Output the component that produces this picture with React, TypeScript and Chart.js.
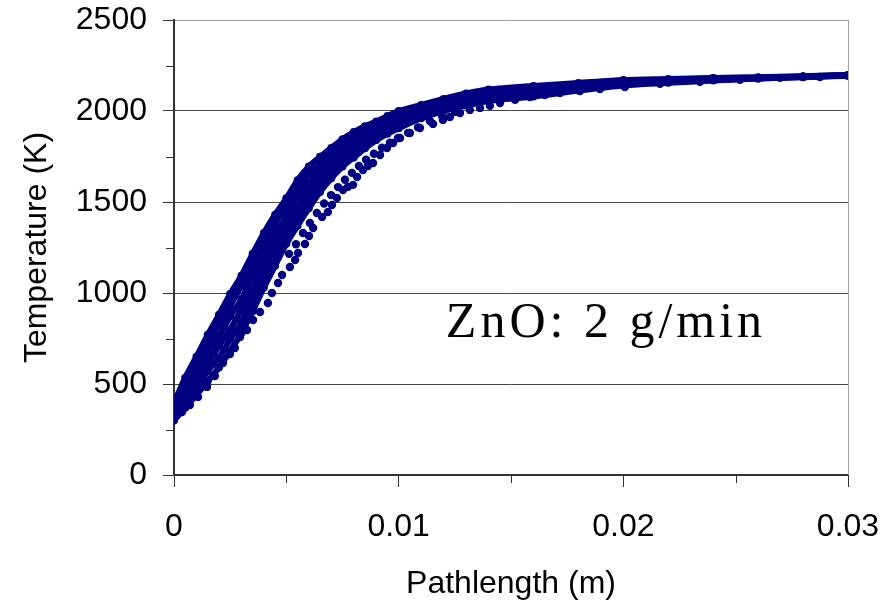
import React, { useEffect, useRef } from 'react';
import { Chart, registerables } from 'chart.js';

Chart.register(...registerables);

// ---------- data ----------
const bandX = [0, 0.0005, 0.001, 0.0015, 0.002, 0.0025, 0.003, 0.0035, 0.004, 0.0045, 0.005, 0.0055, 0.006, 0.0065, 0.007, 0.0075, 0.008, 0.0085, 0.009, 0.0095, 0.01, 0.011, 0.012, 0.013, 0.014, 0.016, 0.018, 0.02, 0.022, 0.024, 0.026, 0.028, 0.03];

const tempA = [395, 535, 650, 770, 880, 995, 1095, 1215, 1330, 1430, 1520, 1620, 1695, 1748, 1797, 1845, 1884, 1916, 1942, 1972, 2000, 2033, 2066, 2096, 2118, 2138, 2154, 2170, 2176, 2182, 2186, 2191, 2198];
const tempB = [376, 500, 612, 715, 825, 930, 1040, 1150, 1265, 1380, 1470, 1565, 1652, 1705, 1768, 1812, 1858, 1890, 1925, 1950, 1984, 2015, 2050, 2085, 2102, 2128, 2143, 2166, 2171, 2180, 2183, 2190, 2197];
const tempC = [357, 472, 560, 672, 760, 872, 965, 1095, 1205, 1322, 1415, 1525, 1600, 1675, 1725, 1790, 1825, 1870, 1898, 1936, 1960, 2006, 2038, 2068, 2095, 2112, 2139, 2156, 2169, 2175, 2182, 2188, 2196];
const tempD = [338, 432, 528, 612, 710, 800, 910, 1020, 1155, 1258, 1375, 1465, 1560, 1630, 1700, 1752, 1805, 1840, 1884, 1910, 1945, 1986, 2029, 2054, 2082, 2106, 2126, 2153, 2163, 2172, 2180, 2188, 2196];
const tempE = [319, 405, 480, 570, 645, 745, 840, 965, 1088, 1210, 1318, 1425, 1508, 1598, 1660, 1728, 1770, 1822, 1858, 1896, 1922, 1977, 2011, 2045, 2066, 2094, 2121, 2145, 2160, 2170, 2179, 2187, 2195];
const tempF = [300, 370, 440, 515, 590, 680, 780, 900, 1030, 1150, 1270, 1370, 1465, 1555, 1630, 1695, 1745, 1795, 1840, 1875, 1905, 1960, 2000, 2030, 2055, 2080, 2112, 2140, 2155, 2167, 2178, 2186, 2194];

const r1X = [0, 0.00036, 0.00071, 0.00107, 0.00147, 0.00182, 0.00218, 0.00249, 0.00271, 0.00294, 0.00325, 0.00352, 0.00383, 0.00418, 0.00436, 0.00463, 0.00481, 0.00516, 0.00539, 0.00552, 0.00583, 0.00601, 0.00619, 0.00659, 0.00685, 0.00703, 0.00725, 0.00752, 0.00774, 0.00797, 0.00815, 0.00841, 0.00863, 0.00886, 0.00917, 0.00948, 0.00975, 0.01006, 0.0105, 0.01095, 0.01153, 0.01197, 0.01228, 0.01273, 0.01317, 0.01362, 0.01406, 0.01451, 0.01518, 0.01584, 0.01651, 0.01718, 0.01807, 0.01896, 0.02007, 0.02163, 0.02341, 0.02519, 0.02697, 0.02875, 0.03];
const r1T = [313, 346, 385, 429, 484, 544, 615, 665, 698, 758, 797, 852, 896, 945, 1000, 1055, 1099, 1143, 1181, 1220, 1269, 1313, 1357, 1418, 1445, 1484, 1522, 1566, 1583, 1594, 1637, 1676, 1698, 1714, 1758, 1797, 1824, 1852, 1879, 1907, 1929, 1951, 1967, 1989, 2006, 2017, 2028, 2044, 2061, 2077, 2088, 2099, 2110, 2121, 2132, 2149, 2160, 2171, 2182, 2187, 2193];

const r2X = [0.00512, 0.00543, 0.00574, 0.00605, 0.00636, 0.00668, 0.00699, 0.0073, 0.00761, 0.00792, 0.00823, 0.00855, 0.0089, 0.00926, 0.00961, 0.00997, 0.01042, 0.01086, 0.01139, 0.01193, 0.01251];
const r2T = [1215, 1268, 1330, 1385, 1440, 1492, 1538, 1582, 1622, 1660, 1698, 1732, 1765, 1798, 1826, 1852, 1880, 1910, 1945, 1972, 1995];

const xTickValues = [0, 0.01, 0.02, 0.03];
const xTickLabels = ['0', '0.01', '0.02', '0.03'];
const xMinorTicks = [0.005, 0.015, 0.025];
const yTickValues = [0, 500, 1000, 1500, 2000, 2500];
const yTickLabels = ['0', '500', '1000', '1500', '2000', '2500'];
const yMinorTicks = [250, 750, 1250, 1750, 2250];

const xTitle = 'Pathlength (m)';
const yTitle = 'Temperature (K)';
const annotationText = 'ZnO: 2 g/min';
const annotationX = 0.0121;
const annotationY = 758;

// ---------- styles ----------
const NAVY = '#000080';
const AXIS = '#333333';
const FONT = '"Liberation Sans", Arial, sans-serif';

export default function App() {
  const ref = useRef<HTMLCanvasElement>(null);

  useEffect(() => {
    const canvas = ref.current;
    if (!canvas) return;
    const zip = (xs: number[], ys: number[]) => xs.map((x, i) => ({ x, y: ys[i] }));

    const bandSets = [tempA, tempB, tempC, tempD, tempE, tempF].map((t, i) => ({
      label: 'Trajectory ' + (i + 1),
      data: zip(bandX, t),
      showLine: true,
      borderColor: NAVY,
      borderWidth: 6,
      backgroundColor: NAVY,
      pointRadius: 4,
      pointBorderWidth: 0,
      tension: 0.25,
    }));
    const dotted = (label: string, xs: number[], ys: number[]) => ({
      label,
      data: zip(xs, ys),
      showLine: false,
      backgroundColor: NAVY,
      borderColor: NAVY,
      pointRadius: 4.2,
      pointBorderWidth: 0,
    });

    const extras = {
      id: 'extras',
      beforeDatasetsDraw(chart: any) {
        const { ctx, chartArea } = chart;
        ctx.save();
        ctx.strokeStyle = '#a0a0a0';
        ctx.lineWidth = 1;
        ctx.beginPath();
        ctx.moveTo(Math.round(chartArea.right) + 0.5, chartArea.top);
        ctx.lineTo(Math.round(chartArea.right) + 0.5, chartArea.bottom);
        ctx.stroke();
        ctx.restore();
      },
      afterDraw(chart: any) {
        const { ctx, chartArea, scales } = chart;
        const xs = scales.x;
        const ys = scales.y;
        ctx.save();
        ctx.strokeStyle = AXIS;
        ctx.lineWidth = 1;
        for (const v of yMinorTicks) {
          const py = Math.round(ys.getPixelForValue(v)) + 0.5;
          ctx.beginPath();
          ctx.moveTo(chartArea.left - 8, py);
          ctx.lineTo(chartArea.left, py);
          ctx.stroke();
        }
        for (const v of xMinorTicks) {
          const px = Math.round(xs.getPixelForValue(v)) + 0.5;
          ctx.beginPath();
          ctx.moveTo(px, chartArea.bottom);
          ctx.lineTo(px, chartArea.bottom + 8);
          ctx.stroke();
        }
        ctx.fillStyle = '#000';
        ctx.font = '50px "Liberation Serif", "Times New Roman", serif';
        try { (ctx as any).letterSpacing = '4px'; } catch (e) {}
        ctx.textAlign = 'left';
        ctx.textBaseline = 'alphabetic';
        ctx.fillText(annotationText, xs.getPixelForValue(annotationX), ys.getPixelForValue(annotationY));
        ctx.restore();
      },
    };

    const chart = new Chart(canvas, {
      type: 'scatter',
      data: { datasets: [...bandSets, dotted('Trajectory 7', r1X, r1T), dotted('Trajectory 8', r2X, r2T)] as any },
      options: {
        animation: false,
        responsive: false,
        layout: { padding: { left: 0, top: 20, right: 36, bottom: 0 } },
        plugins: { legend: { display: false }, tooltip: { enabled: false } },
        scales: {
          x: {
            type: 'linear',
            min: 0,
            max: 0.03,
            afterFit: (s: any) => {
              s.height = 133;
              s.paddingLeft = 0;
              s.paddingRight = 0;
            },
            afterBuildTicks: (s: any) => { s.ticks = xTickValues.map((v) => ({ value: v })); },
            ticks: {
              callback: (_v: any, i: number) => xTickLabels[i],
              font: { family: FONT, size: 32 },
              color: '#000',
              padding: 21,
              maxRotation: 0,
              autoSkip: false,
            },
            grid: { drawOnChartArea: false, tickLength: 12, tickColor: AXIS, tickWidth: 1 },
            border: { color: AXIS, width: 2 },
            title: {
              display: true,
              text: xTitle,
              font: { family: FONT, size: 32 },
              color: '#000',
              padding: { top: 0, bottom: 5 },
            },
          },
          y: {
            type: 'linear',
            min: 0,
            max: 2500,
            afterFit: (s: any) => {
              s.width = 174;
              s.paddingTop = 0;
              s.paddingBottom = 0;
            },
            afterBuildTicks: (s: any) => { s.ticks = yTickValues.map((v) => ({ value: v })); },
            ticks: {
              callback: (_v: any, i: number) => yTickLabels[i],
              font: { family: FONT, size: 32 },
              color: '#000',
              padding: 16,
              autoSkip: false,
            },
            grid: {
              color: (c: any) => (c.tick && c.tick.value === 2500 ? '#a0a0a0' : '#444444'),
              lineWidth: 1,
              tickLength: 11,
              tickColor: AXIS,
              tickWidth: 1,
            },
            border: { color: AXIS, width: 2 },
            title: {
              display: true,
              text: yTitle,
              font: { family: FONT, size: 32 },
              color: '#000',
              padding: { top: 18, bottom: 0 },
            },
          },
        },
      },
      plugins: [extras],
    });
    return () => chart.destroy();
  }, []);

  return (
    <div style={{ position: 'fixed', left: 0, top: 0, width: 884, height: 608, background: '#fff' }}>
      <canvas ref={ref} width={884} height={608} style={{ display: 'block', width: 884, height: 608 }} />
    </div>
  );
}
